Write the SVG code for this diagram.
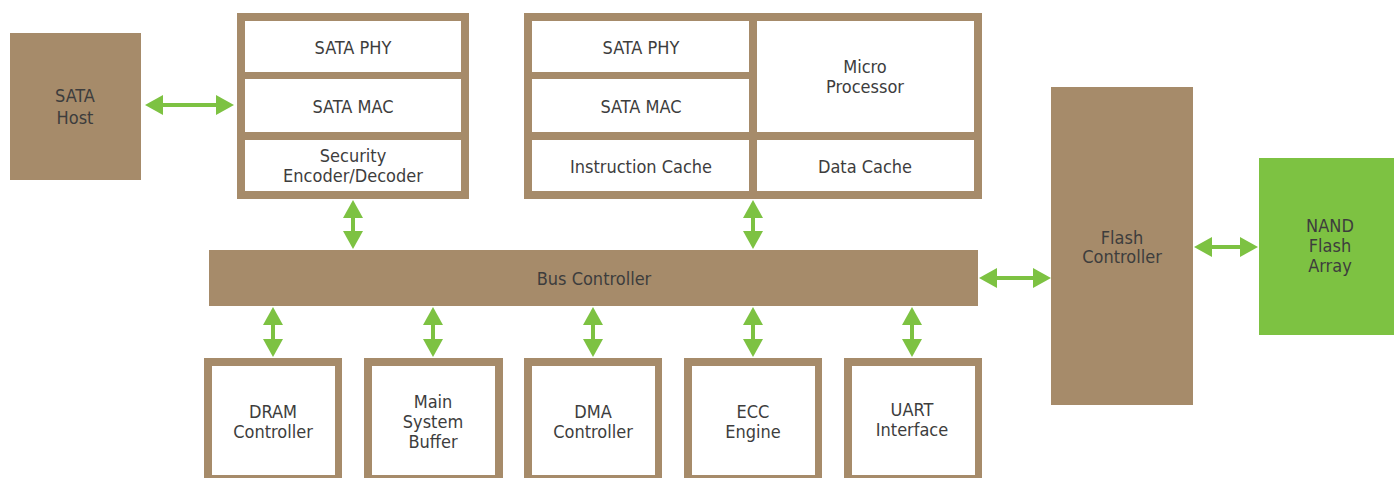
<svg xmlns="http://www.w3.org/2000/svg" width="1394" height="478" viewBox="0 0 1394 478">
<defs>
<style>
.br{fill:#A68B6A}
.wh{fill:#FFFFFF}
.gr{fill:#7DC242}
text{font-family:"DejaVu Sans Condensed","DejaVu Sans",sans-serif;font-stretch:condensed;font-size:18px;fill:#3d3d3d;text-anchor:middle}
.cn{stroke:#7DC242;stroke-width:4;fill:none;marker-start:url(#ah);marker-end:url(#ah)}
</style>
<marker id="ah" viewBox="0 0 18 20" refX="8" refY="10" markerWidth="18" markerHeight="20" markerUnits="userSpaceOnUse" orient="auto-start-reverse">
<path d="M0,0 L18,10 L0,20 Z" fill="#7DC242"/>
</marker>
</defs>
<rect width="1394" height="478" fill="#FFFFFF"/>

<g id="sata-host">
<rect class="br" x="10" y="33" width="131" height="147"/>
<text x="75" y="102">SATA</text>
<text x="75" y="124">Host</text>
</g>

<g id="host-interface">
<rect class="br" x="237" y="13" width="232" height="186"/>
<rect class="wh" x="245" y="21" width="216" height="51"/>
<rect class="wh" x="245" y="79" width="216" height="53"/>
<rect class="wh" x="245" y="140" width="216" height="51"/>
<text x="353" y="54">SATA PHY</text>
<text x="353" y="113">SATA MAC</text>
<text x="353" y="162">Security</text>
<text x="353" y="182">Encoder/Decoder</text>
</g>

<g id="processor-block">
<rect class="br" x="524" y="13" width="458" height="186"/>
<rect class="wh" x="532" y="21" width="217" height="51"/>
<rect class="wh" x="532" y="79" width="217" height="53"/>
<rect class="wh" x="532" y="140" width="217" height="51"/>
<rect class="wh" x="757" y="21" width="217" height="111"/>
<rect class="wh" x="757" y="140" width="217" height="51"/>
<text x="641" y="54">SATA PHY</text>
<text x="641" y="113">SATA MAC</text>
<text x="641" y="173">Instruction Cache</text>
<text x="865" y="73">Micro</text>
<text x="865" y="93">Processor</text>
<text x="865" y="173">Data Cache</text>
</g>

<g id="bus-controller">
<rect class="br" x="209" y="250" width="769" height="56"/>
<text x="594" y="285">Bus Controller</text>
</g>

<g id="dram-controller">
<rect class="br" x="204" y="358" width="138" height="124"/>
<rect class="wh" x="212" y="366" width="123" height="109"/>
<text x="273" y="418">DRAM</text>
<text x="273" y="438">Controller</text>
</g>

<g id="main-system-buffer">
<rect class="br" x="364" y="358" width="139" height="124"/>
<rect class="wh" x="372" y="366" width="123" height="109"/>
<text x="433" y="408">Main</text>
<text x="433" y="428">System</text>
<text x="433" y="448">Buffer</text>
</g>

<g id="dma-controller">
<rect class="br" x="524" y="358" width="138" height="124"/>
<rect class="wh" x="532" y="366" width="123" height="109"/>
<text x="593" y="418">DMA</text>
<text x="593" y="438">Controller</text>
</g>

<g id="ecc-engine">
<rect class="br" x="684" y="358" width="138" height="124"/>
<rect class="wh" x="692" y="366" width="123" height="109"/>
<text x="753" y="418">ECC</text>
<text x="753" y="438">Engine</text>
</g>

<g id="uart-interface">
<rect class="br" x="844" y="358" width="138" height="124"/>
<rect class="wh" x="852" y="366" width="123" height="109"/>
<text x="912" y="416">UART</text>
<text x="912" y="436">Interface</text>
</g>

<g id="flash-controller">
<rect class="br" x="1051" y="87" width="142" height="318"/>
<text x="1122" y="244">Flash</text>
<text x="1122" y="263">Controller</text>
</g>

<g id="nand-flash-array">
<rect class="gr" x="1259" y="158" width="135" height="177"/>
<text x="1330" y="232">NAND</text>
<text x="1330" y="252">Flash</text>
<text x="1330" y="272">Array</text>
</g>

<g id="connectors">
<line class="cn" x1="155" y1="105" x2="224" y2="105"/>
<line class="cn" x1="353" y1="210" x2="353" y2="239"/>
<line class="cn" x1="753" y1="210" x2="753" y2="239"/>
<line class="cn" x1="273" y1="317" x2="273" y2="347"/>
<line class="cn" x1="433" y1="317" x2="433" y2="347"/>
<line class="cn" x1="593" y1="317" x2="593" y2="347"/>
<line class="cn" x1="753" y1="317" x2="753" y2="347"/>
<line class="cn" x1="912" y1="317" x2="912" y2="347"/>
<line class="cn" x1="989" y1="278" x2="1041" y2="278"/>
<line class="cn" x1="1204" y1="247" x2="1248" y2="247"/>
</g>
</svg>
